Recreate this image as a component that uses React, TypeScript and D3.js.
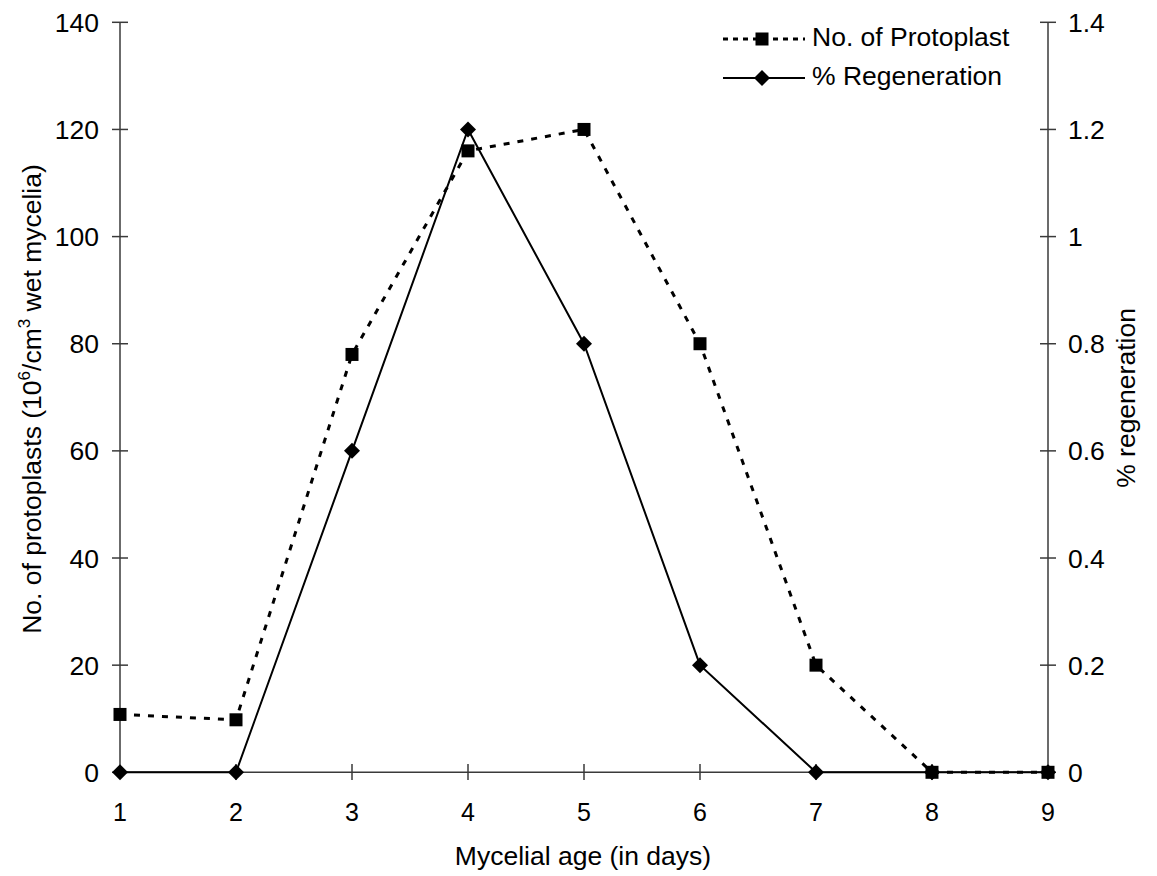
import React from "react";
import * as d3 from "d3";

// Mycelial age (days) on the x axis
const days = [1, 2, 3, 4, 5, 6, 7, 8, 9];
// Number of protoplasts (10^6 / cm^3 wet mycelia), left axis
const protoplasts = [10.8, 9.8, 78, 116, 120, 80, 20, 0, 0];
// Percentage regeneration, right axis
const regeneration = [0, 0, 0.6, 1.2, 0.8, 0.2, 0, 0, 0];

const leftTicks = [0, 20, 40, 60, 80, 100, 120, 140];
const rightTicks = [0, 0.2, 0.4, 0.6, 0.8, 1, 1.2, 1.4];

const W = 1157;
const H = 876;
const FONT = "'Liberation Sans', Arial, Helvetica, sans-serif";
const AXIS = "#3a3a3a";
const FS = 26.5;

export default function App() {
  const x = d3.scaleLinear().domain([1, 9]).range([120, 1048]);
  const yL = d3.scaleLinear().domain([0, 140]).range([772.3, 22.3]);
  const yR = d3.scaleLinear().domain([0, 1.4]).range([772.3, 22.3]);

  const protoLine = d3
    .line<number>()
    .x((_, i) => x(days[i]))
    .y((d) => yL(d))(protoplasts) as string;
  const regenLine = d3
    .line<number>()
    .x((_, i) => x(days[i]))
    .y((d) => yR(d))(regeneration) as string;

  const sq = 13;
  const dia = 8;
  const diamond = (cx: number, cy: number) =>
    `M${cx},${cy - dia}L${cx + dia},${cy}L${cx},${cy + dia}L${cx - dia},${cy}Z`;

  const fmtR = (v: number) => (v === 0 ? "0" : v === 1 ? "1" : d3.format(".1f")(v));

  return (
    <svg
      width={W}
      height={H}
      style={{ position: "absolute", left: 0, top: 0, background: "#fff" }}
      fontFamily={FONT}
    >
      {/* axes */}
      <line x1={120} x2={120} y1={yL(140)} y2={yL(0)} stroke={AXIS} strokeWidth={1.5} />
      <line x1={1048} x2={1048} y1={yR(1.4)} y2={yR(0)} stroke={AXIS} strokeWidth={1.5} />
      <line x1={120} x2={1048} y1={yL(0)} y2={yL(0)} stroke={AXIS} strokeWidth={1.5} />

      {/* left ticks */}
      {leftTicks.map((t) => (
        <g key={"l" + t}>
          <line x1={112} x2={128} y1={yL(t)} y2={yL(t)} stroke={AXIS} strokeWidth={1.5} />
          <text x={99} y={yL(t) + 9.5} textAnchor="end" fontSize={FS} fill="#000">
            {t}
          </text>
        </g>
      ))}

      {/* right ticks */}
      {rightTicks.map((t) => (
        <g key={"r" + t}>
          <line x1={1040} x2={1056} y1={yR(t)} y2={yR(t)} stroke={AXIS} strokeWidth={1.5} />
          <text x={1068} y={yR(t) + 9.5} textAnchor="start" fontSize={FS} fill="#000">
            {fmtR(t)}
          </text>
        </g>
      ))}

      {/* x ticks */}
      {days.map((d) => (
        <g key={"x" + d}>
          {d > 1 && d < 9 && (
            <line x1={x(d)} x2={x(d)} y1={764} y2={780} stroke={AXIS} strokeWidth={1.5} />
          )}
          <text x={x(d)} y={821} textAnchor="middle" fontSize={25} fill="#000">
            {d}
          </text>
        </g>
      ))}

      {/* axis titles */}
      <text x={583} y={865} textAnchor="middle" fontSize={FS} fill="#000">
        Mycelial age (in days)
      </text>
      <text
        transform={`translate(41,399) rotate(-90)`}
        textAnchor="middle"
        fontSize={FS}
        fill="#000"
      >
        No. of protoplasts (10
        <tspan fontSize={17} dy={-11}>6</tspan>
        <tspan dy={11}>/cm</tspan>
        <tspan fontSize={17} dy={-11}>3</tspan>
        <tspan dy={11}> wet mycelia)</tspan>
      </text>
      <text
        transform={`translate(1135,398) rotate(-90)`}
        textAnchor="middle"
        fontSize={FS}
        fill="#000"
      >
        % regeneration
      </text>

      {/* % regeneration series */}
      <path d={regenLine} fill="none" stroke="#000" strokeWidth={2} />
      {regeneration.map((v, i) => (
        <path key={"d" + i} d={diamond(x(days[i]), yR(v))} fill="#000" />
      ))}

      {/* protoplast series */}
      <path d={protoLine} fill="none" stroke="#000" strokeWidth={3} strokeDasharray="6 8" />
      {protoplasts.map((v, i) => (
        <rect
          key={"s" + i}
          x={x(days[i]) - sq / 2}
          y={yL(v) - sq / 2}
          width={sq}
          height={sq}
          fill="#000"
        />
      ))}

      {/* legend */}
      <line x1={723} x2={805} y1={39} y2={39} stroke="#000" strokeWidth={3} strokeDasharray="5 5" />
      <rect x={762 - sq / 2} y={39 - sq / 2} width={sq} height={sq} fill="#000" />
      <text x={812} y={46} fontSize={FS} fill="#000">
        No. of Protoplast
      </text>
      <line x1={723} x2={805} y1={78} y2={78} stroke="#000" strokeWidth={2} />
      <path d={diamond(762, 78)} fill="#000" />
      <text x={812} y={84.5} fontSize={FS} fill="#000">
        % Regeneration
      </text>
    </svg>
  );
}
